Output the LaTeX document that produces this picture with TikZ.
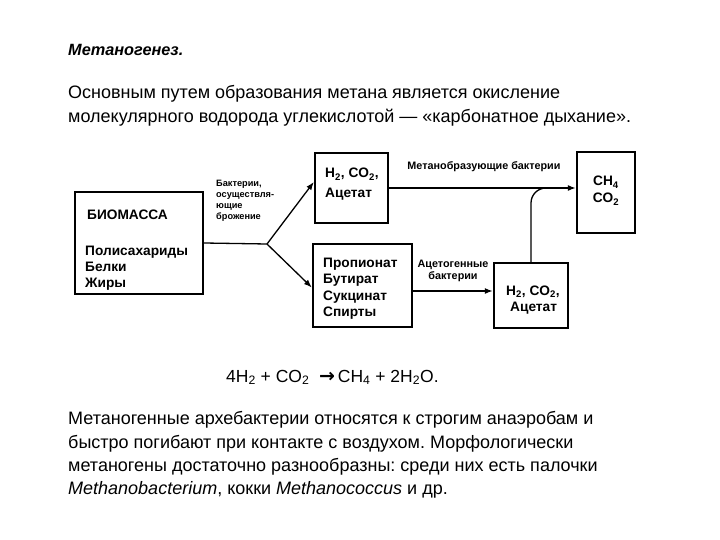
\documentclass[tikz,border=0pt]{standalone}
\usepackage{fontspec}
\setmainfont{Liberation Sans}
\newfontfamily\dvfont{DejaVu Sans}
\usetikzlibrary{arrows.meta}
\frenchspacing
\begin{document}
\begin{tikzpicture}[x=1pt,y=-1pt,
  box/.style={draw, line width=2.4pt, inner sep=0pt},
  ln/.style={line width=1.3pt},
  arr/.style={ln, -{Latex[length=8pt,width=6pt]}},
  bt/.style={font=\bfseries\fontsize{13.7}{15}\selectfont, anchor=base west, inner sep=0pt},
  lab/.style={font=\bfseries\fontsize{10.8}{12}\selectfont, inner sep=0pt},
  txt/.style={font=\fontsize{18}{21}\selectfont, anchor=base west, inner sep=0pt}]
\useasboundingbox[fill=white] (0,0) rectangle (720,540);

% header text
\node[txt, font=\bfseries\itshape\fontsize{16.3}{19}\selectfont] (title) at (68,56) {Метаногенез.};
\node[txt] (p1) at (68,99) {Основным путем образования метана является окисление};
\node[txt] (p2) at (68,123) {молекулярного водорода углекислотой — «карбонатное дыхание».};

% boxes
\node[box, minimum width=128pt, minimum height=102pt] (bio) at (139,243) {};
\node[box, minimum width=73pt, minimum height=70pt] (up) at (351.5,188) {};
\node[box, minimum width=99pt, minimum height=83pt] (low) at (362.5,285.5) {};
\node[box, minimum width=58pt, minimum height=81pt] (ch4) at (606,192.5) {};
\node[box, minimum width=74pt, minimum height=65pt] (lr) at (531,295.5) {};

% box texts
\node[bt] (t1) at (87,220) {БИОМАССА};
\node[bt] (t2) at (85,255) {Полисахариды};
\node[bt] (t3) at (85,271) {Белки};
\node[bt] (t4) at (85,287) {Жиры};

\node[bt] (u1) at (325,178) {H\textsubscript{2}, CO\textsubscript{2},};
\node[bt] (u2) at (325,197) {Ацетат};

\node[bt] (l1) at (323,267) {Пропионат};
\node[bt] (l2) at (323,283) {Бутират};
\node[bt] (l3) at (323,300) {Сукцинат};
\node[bt] (l4) at (323,316) {Спирты};

\node[bt, anchor=base] (c1) at (606,186) {CH\textsubscript{4}};
\node[bt, anchor=base] (c2) at (606,203) {CO\textsubscript{2}};

\node[bt] (r1) at (506,295) {H\textsubscript{2}, CO\textsubscript{2},};
\node[bt] (r2) at (510,311) {Ацетат};

% connectors
\coordinate (br) at (267,244);
\draw[ln] (bio.east) -- (br);
\draw[arr] (br) -- ([yshift=6pt]up.west);
\draw[arr] (br) -- ([yshift=-2pt]low.west);
\draw[arr] (up.east) -- (up.east -| ch4.west);
\draw[arr] ([yshift=-5.5pt]low.east) -- ([yshift=-5.5pt]low.east -| lr.west);
\coordinate (mj) at (560,188);
\draw[ln, rounded corners=15pt] (lr.north) |- (mj);

% connector labels
\node[lab, font=\bfseries\fontsize{9.2}{11}\selectfont, anchor=north west, align=left] (bl) at (216,180) {Бактерии,\\осуществля-\\ющие\\брожение};
\node[lab] (ml) at (484,167) {Метанобразующие бактерии};
\node[lab, align=center] (al) at (453,271) {Ацетогенные\\бактерии};

% equation
\node[txt, font=\fontsize{17.5}{20}\selectfont] (eq) at (226,382) {4H\textsubscript{2} + CO\textsubscript{2} \ {\dvfont\bfseries\fontsize{19}{20}\selectfont →}\,CH\textsubscript{4} + 2H\textsubscript{2}O.};

% bottom paragraph
\node[txt] (b1) at (68,424) {Метаногенные архебактерии относятся к строгим анаэробам и};
\node[txt] (b2) at (68,448) {быстро погибают при контакте с воздухом. Морфологически};
\node[txt] (b3) at (68,471) {метаногены достаточно разнообразны: среди них есть палочки};
\node[txt] (b4) at (68,494) {\textit{Methanobacterium}, кокки \textit{Methanococcus} и др.};
\end{tikzpicture}
\end{document}
